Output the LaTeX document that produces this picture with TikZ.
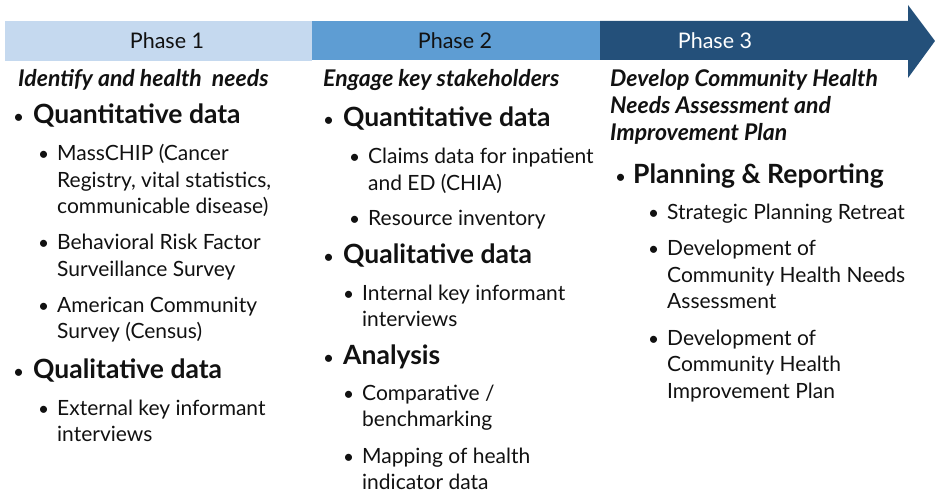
\documentclass[tikz,border=0pt]{standalone}
\usepackage{fontspec}
\setmainfont{Lato}
\definecolor{pA}{HTML}{C5D9EF}
\definecolor{pB}{HTML}{5E9DD3}
\definecolor{pC}{HTML}{24507A}
\definecolor{txt}{HTML}{111111}
\tikzset{
  ln/.style={anchor=base west, inner sep=0pt, text=txt, font=\fontsize{21}{24}\selectfont},
  hd/.style={anchor=base west, inner sep=0pt, text=txt, font=\fontsize{26.5}{30}\selectfont\bfseries},
  it/.style={anchor=base west, inner sep=0pt, text=txt, font=\fontsize{23}{26}\selectfont\bfseries\itshape},
  bl/.style={anchor=base west, inner sep=0pt, text=txt, font=\fontsize{19}{22}\selectfont},
  ph/.style={anchor=center, inner sep=0pt, font=\fontsize{21.5}{24}\selectfont},
}
\begin{document}
\begin{tikzpicture}[x=1pt,y=-1pt]
\useasboundingbox (0,0) rectangle (935,494);
% bar
\fill[pA] (5,21) rectangle (312,61);
\fill[pB] (312,21) rectangle (600,60);
\fill[pC] (600,21) -- (908,21) -- (908,5) -- (935,41) -- (908,78) -- (908,60) -- (600,60) -- cycle;
\node[ph,text=txt] (p1) at (167,41) {Phase 1};
\node[ph,text=txt] (p2) at (455,41) {Phase 2};
\node[ph,text=white] (p3) at (715,41) {Phase 3};
% column 1
\node[it] (c1t) at (18,87) {Identify and health\ \ needs};
\node[bl] (c1b1) at (13,124) {\textbullet};
\node[hd] (c1h1) at (33,124) {Quantitative data};
\node[bl] (c1s1) at (38,161) {\textbullet};
\node[ln] (c1a) at (57,161) {MassCHIP (Cancer};
\node[ln] (c1b) at (57,188) {Registry, vital statistics,};
\node[ln] (c1c) at (57,214) {communicable disease)};
\node[bl] (c1s2) at (38,250) {\textbullet};
\node[ln] (c1d) at (57,250) {Behavioral Risk Factor};
\node[ln] (c1e) at (57,277) {Surveillance Survey};
\node[bl] (c1s3) at (38,313) {\textbullet};
\node[ln] (c1f) at (57,313) {American Community};
\node[ln] (c1g) at (57,339) {Survey (Census)};
\node[bl] (c1b2) at (13,379) {\textbullet};
\node[hd] (c1h2) at (33,379) {Qualitative data};
\node[bl] (c1s4) at (38,415) {\textbullet};
\node[ln] (c1h) at (57,415) {External key informant};
\node[ln] (c1i) at (57,442) {interviews};
% column 2
\node[it] (c2t) at (323,87) {Engage key stakeholders};
\node[bl] (c2b1) at (323,127) {\textbullet};
\node[hd] (c2h1) at (343,127) {Quantitative data};
\node[bl] (c2s1) at (349,164) {\textbullet};
\node[ln] (c2a) at (368,164) {Claims data for inpatient};
\node[ln] (c2b) at (368,191) {and ED (CHIA)};
\node[bl] (c2s2) at (349,226) {\textbullet};
\node[ln] (c2c) at (368,226) {Resource inventory};
\node[bl] (c2b2) at (323,264) {\textbullet};
\node[hd] (c2h2) at (343,264) {Qualitative data};
\node[bl] (c2s3) at (343,301) {\textbullet};
\node[ln] (c2d) at (362,301) {Internal key informant};
\node[ln] (c2e) at (362,327) {interviews};
\node[bl] (c2b3) at (323,365) {\textbullet};
\node[hd] (c2h3) at (343,365) {Analysis};
\node[bl] (c2s4) at (343,401) {\textbullet};
\node[ln] (c2f) at (362,401) {Comparative /};
\node[ln] (c2g) at (362,427) {benchmarking};
\node[bl] (c2s5) at (343,463) {\textbullet};
\node[ln] (c2h) at (362,463) {Mapping of health};
\node[ln] (c2i) at (362,489) {indicator data};
% column 3
\node[it] (c3t) at (610,87) {Develop Community Health};
\node[it] (c3u) at (610,114) {Needs Assessment and};
\node[it] (c3v) at (610,141) {Improvement Plan};
\node[bl] (c3b1) at (615,184) {\textbullet};
\node[hd] (c3h1) at (633,184) {Planning \& Reporting};
\node[bl] (c3s1) at (648,220) {\textbullet};
\node[ln] (c3a) at (667,220) {Strategic Planning Retreat};
\node[bl] (c3s2) at (648,256) {\textbullet};
\node[ln] (c3b) at (667,256) {Development of};
\node[ln] (c3c) at (667,283) {Community Health Needs};
\node[ln] (c3d) at (667,309) {Assessment};
\node[bl] (c3s3) at (648,346) {\textbullet};
\node[ln] (c3e) at (667,346) {Development of};
\node[ln] (c3f) at (667,372) {Community Health};
\node[ln] (c3g) at (667,399) {Improvement Plan};
\end{tikzpicture}
\end{document}
